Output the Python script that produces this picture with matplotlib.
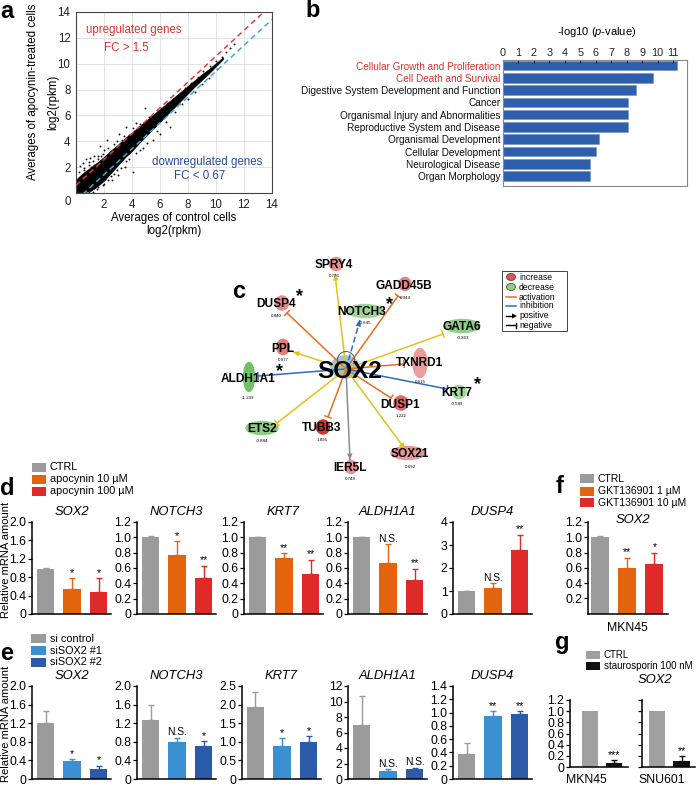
import numpy as np
import matplotlib
matplotlib.use('Agg')
import matplotlib.pyplot as plt
from matplotlib.patches import Ellipse, Rectangle, Arc, Polygon

plt.rcParams['font.family'] = ['Liberation Sans', 'DejaVu Sans']
plt.rcParams['mathtext.fontset'] = 'custom'
plt.rcParams['mathtext.rm'] = 'Liberation Sans'
plt.rcParams['mathtext.it'] = 'Liberation Sans:italic'

# ======================= DATA =======================
# --- a: scatter of log2(rpkm), dense core as band + individual points
band_x  = [0.0, 0.5, 1.0, 1.5, 2.0, 2.5, 3.0, 3.5, 4.0, 4.5, 5.0, 5.5, 6.0, 6.5, 7.0, 7.5, 8.0, 8.5, 9.0, 9.5, 10.0, 10.5]
band_lo = [0.05, 0.05, 0.15, 0.5, 0.95, 1.55, 2.15, 2.75, 3.25, 3.85, 4.4, 4.95, 5.5, 6.05, 6.6, 7.15, 7.7, 8.25, 8.75, 9.25, 9.8, 10.35]
band_hi = [1.05, 1.55, 1.95, 2.35, 2.8, 3.3, 3.75, 4.25, 4.7, 5.15, 5.6, 6.05, 6.5, 6.95, 7.4, 7.85, 8.3, 8.75, 9.2, 9.6, 10.05, 10.5]
up_x = [0.2, 0.3, 0.4, 0.5, 0.6, 0.7, 0.8, 0.9, 1.0, 1.1, 1.2, 1.3, 1.4, 1.6, 1.7, 1.8, 2.0, 2.1, 2.2, 2.4,
        2.6, 2.7, 2.9, 3.1, 3.3, 3.6, 3.8, 4.1, 4.3, 4.6, 4.9, 5.2, 5.5, 5.8, 6.1, 6.5, 6.9, 7.3, 7.8, 8.2,
        8.7, 9.1, 9.6, 10.0, 10.4, 10.7, 11.0, 11.3, 0.35, 0.55, 0.95, 1.25, 1.55, 1.9, 2.3, 2.8, 3.4]
up_y = [1.6, 2.1, 1.4, 2.3, 1.9, 2.6, 1.7, 2.2, 2.7, 2.0, 2.5, 2.9, 2.2, 2.6, 3.6, 2.9, 3.3, 2.7, 4.1, 3.2,
        3.1, 3.8, 4.0, 4.6, 4.1, 5.1, 4.5, 5.0, 5.4, 5.3, 6.6, 5.9, 5.9, 6.4, 6.6, 7.0, 7.3, 7.6, 8.1, 8.5,
        9.0, 9.4, 9.8, 10.2, 10.5, 10.9, 11.2, 11.5, 1.3, 1.8, 2.4, 2.2, 2.9, 3.0, 3.5, 3.4, 4.4]
dn_x = [0.9, 1.1, 1.3, 1.5, 1.7, 1.9, 2.1, 2.3, 2.5, 2.7, 2.9, 3.2, 3.5, 3.8, 4.1, 4.3, 4.6, 4.8, 5.1, 5.5,
        5.8, 6.0, 6.4, 6.7, 7.1, 7.6, 8.0, 8.5, 9.0, 9.5, 10.1, 1.2, 1.6, 2.0, 2.6, 3.0, 3.6]
dn_y = [0.1, 0.2, 0.4, 0.3, 0.85, 0.6, 1.1, 1.0, 1.3, 1.5, 1.8, 1.9, 2.0, 2.6, 1.6, 3.1, 3.3, 3.5, 3.9, 4.1,
        4.8, 4.6, 5.5, 5.1, 6.3, 6.9, 7.3, 7.8, 8.4, 8.9, 9.6, 0.05, 0.5, 0.7, 1.0, 1.4, 2.5]
fc_up, fc_down = 1.5, 0.67

# --- b: IPA functions
b_labels = ['Cellular Growth and Proliferation', 'Cell Death and Survival',
            'Digestive System Development and Function', 'Cancer',
            'Organismal Injury and Abnormalities', 'Reproductive System and Disease',
            'Organismal Development', 'Cellular Development', 'Neurological Disease',
            'Organ Morphology']
b_values = [11.25, 9.7, 8.6, 8.1, 8.1, 8.1, 6.2, 6.0, 5.65, 5.65]
b_highlight = [True, True, False, False, False, False, False, False, False, False]

# --- c: SOX2 network
net_hub = 'SOX2'
net_genes = ['SPRY4', 'GADD45B', 'NOTCH3', 'DUSP4', 'GATA6', 'PPL', 'TXNRD1',
             'ALDH1A1', 'KRT7', 'DUSP1', 'ETS2', 'TUBB3', 'SOX21', 'IER5L']
net_fc = [0.776, 0.944, -0.645, 0.840, -0.863, 0.977, 0.615,
          -1.239, -0.589, 1.222, -0.884, 1.895, 0.692, 0.748]
net_rel = ['inconsistent', 'activation', 'inhibition', 'activation', 'inconsistent', 'inconsistent', 'activation',
           'inhibition', 'inhibition', 'activation', 'inconsistent', 'activation', 'inconsistent', 'unknown']
net_head = ['arrow', 'bar', 'arrow', 'bar', 'bar', 'arrow', 'bar',
            'bar', 'bar', 'bar', 'bar', 'bar', 'arrow', 'arrow']
net_dashed = ['NOTCH3']
net_starred = ['DUSP4', 'NOTCH3', 'ALDH1A1', 'KRT7']

# --- d: apocynin qPCR
d_genes = ['SOX2', 'NOTCH3', 'KRT7', 'ALDH1A1', 'DUSP4']
d_groups = ['CTRL', 'apocynin 10 \u00b5M', 'apocynin 100 \u00b5M']
d_means = [[0.97, 0.55, 0.48], [1.0, 0.77, 0.47], [1.0, 0.73, 0.52], [1.0, 0.67, 0.44], [1.0, 1.13, 2.77]]
d_errs = [[0.04, 0.23, 0.30], [0.02, 0.18, 0.16], [0.01, 0.06, 0.19], [0.01, 0.24, 0.15], [0.02, 0.22, 0.68]]
d_sig = [['', '*', '*'], ['', '*', '**'], ['', '**', '**'], ['', 'N.S.', '**'], ['', 'N.S.', '**']]
d_yticks = [[0, 0.4, 0.8, 1.2, 1.6, 2.0], [0, 0.2, 0.4, 0.6, 0.8, 1.0, 1.2], [0, 0.2, 0.4, 0.6, 0.8, 1.0, 1.2],
            [0, 0.2, 0.4, 0.6, 0.8, 1.0, 1.2], [0, 1, 2, 3, 4]]
d_yticklabels = [['0', '0.4', '0.8', '1.2', '1.6', '2.0'], ['0', '0.2', '0.4', '0.6', '0.8', '1.0', '1.2'],
                 ['0', '0.2', '0.4', '0.6', '0.8', '1.0', '1.2'], ['0', '0.2', '0.4', '0.6', '0.8', '1.0', '1.2'],
                 ['0', '1', '2', '3', '4']]

# --- e: siSOX2 qPCR
e_genes = ['SOX2', 'NOTCH3', 'KRT7', 'ALDH1A1', 'DUSP4']
e_groups = ['si control', 'siSOX2 #1', 'siSOX2 #2']
e_means = [[1.2, 0.39, 0.21], [1.27, 0.79, 0.71], [1.94, 0.89, 0.99], [7.0, 1.0, 1.3], [0.38, 0.95, 0.98]]
e_errs = [[0.26, 0.04, 0.07], [0.32, 0.10, 0.10], [0.40, 0.21, 0.16], [3.7, 0.30, 0.15], [0.16, 0.07, 0.04]]
e_sig = [['', '*', '*'], ['', 'N.S.', '*'], ['', '*', '*'], ['', 'N.S.', 'N.S.'], ['', '**', '**']]
e_yticks = [[0, 0.4, 0.8, 1.2, 1.6, 2.0], [0, 0.4, 0.8, 1.2, 1.6, 2.0], [0, 0.5, 1.0, 1.5, 2.0, 2.5],
            [0, 2, 4, 6, 8, 10, 12], [0, 0.2, 0.4, 0.6, 0.8, 1.0, 1.2, 1.4]]
e_yticklabels = [['0', '0.4', '0.8', '1.2', '1.6', '2.0'], ['0', '0.4', '0.8', '1.2', '1.6', '2.0'],
                 ['0', '0.5', '1.0', '1.5', '2.0', '2.5'], ['0', '2', '4', '6', '8', '10', '12'],
                 ['0', '0.2', '0.4', '0.6', '0.8', '1.0', '1.2', '1.4']]

# --- f: GKT136901
f_groups = ['CTRL', 'GKT136901 1 \u00b5M', 'GKT136901 10 \u00b5M']
f_means = [1.0, 0.60, 0.65]
f_errs = [0.01, 0.13, 0.15]
f_sig = ['', '**', '*']
f_cell = 'MKN45'
f_yticks = [0.2, 0.4, 0.6, 0.8, 1.0, 1.2]
f_yticklabels = ['0.2', '0.4', '0.6', '0.8', '1.0', '1.2']

# --- g: staurosporin
g_groups = ['CTRL', 'staurosporin 100 nM']
g_cells = ['MKN45', 'SNU601']
g_means = [[1.0, 0.07], [1.0, 0.10]]
g_errs = [[0.0, 0.05], [0.0, 0.09]]
g_sig = [['', '***'], ['', '**']]
g_yticks = [0, 0.2, 0.4, 0.6, 0.8, 1.0, 1.2]
g_yticklabels = ['0', '0.2', '0.4', '0.6', '0.8', '1.0', '1.2']

# ======================= STYLE / LAYOUT =======================
W, H = 698, 792
fig = plt.figure(figsize=(W / 100, H / 100), dpi=100)


def px_axes(x0, y0, x1, y1):
    return fig.add_axes([x0 / W, 1 - y1 / H, (x1 - x0) / W, (y1 - y0) / H])


GRAY = '#9b9b9b'
ORANGE = '#e2640f'
RED = '#e02a2a'
LBLUE = '#3a90d0'
DBLUE = '#2a5aa8'
d_colors = [GRAY, ORANGE, RED]
e_colors = [GRAY, LBLUE, DBLUE]
f_colors = [GRAY, ORANGE, RED]
g_colors = ['#a0a0a0', '#111111']
TICK_FS = 8.8

# ---------------- panel a ----------------
axa = px_axes(76, 12, 272, 193)
axa.set_xlim(0, 14)
axa.set_ylim(0, 14)
axa.set_xticks(range(0, 15, 2))
axa.set_yticks(range(0, 15, 2))
axa.set_xticklabels([''] + [str(v) for v in range(2, 15, 2)])
axa.set_yticklabels([''] + [str(v) for v in range(2, 15, 2)])
axa.tick_params(length=0, labelsize=8.3, colors='#222', pad=4)
axa.grid(True, color='#dedede', lw=0.6)
axa.set_axisbelow(True)
for s in axa.spines.values():
    s.set_color('#444')
    s.set_linewidth(0.8)
axa.fill_between(band_x, band_lo, band_hi, color='black', lw=0.4, zorder=2)
axa.scatter(up_x + dn_x, up_y + dn_y, s=1.8, c='black', lw=0, zorder=2)
xs = np.array([0.0, 14.0])
axa.plot(xs, xs + np.log2(fc_up), ls=(0, (3.5, 2.5)), color='#e63b3b', lw=1.1, zorder=3)
axa.plot(xs, xs + np.log2(fc_down), ls=(0, (3.5, 2.5)), color='#41a5dd', lw=1.1, zorder=3)
axa.text(0.7, 12.6, 'upregulated genes', color='#e0302a', fontsize=8.3, va='center', zorder=5)
axa.text(3.6, 11.2, 'FC > 1.5', color='#e0302a', fontsize=8.3, ha='center', va='center', zorder=5)
axa.text(5.4, 2.4, 'downregulated genes', color='#2a4aa0', fontsize=8.3, va='center', zorder=5)
axa.text(8.85, 1.3, 'FC < 0.67', color='#2a4aa0', fontsize=8.3, ha='center', va='center', zorder=5)

# ---------------- panel b ----------------
axb = px_axes(503, 60, 687, 186)
ypos = np.arange(len(b_values))
axb.barh(ypos, b_values, height=0.78, color='#2e5fac', edgecolor='#6d8fc8', lw=0.4)
axb.set_ylim(9.8, -0.45)
axb.set_xlim(0, 11.9)
axb.xaxis.tick_top()
axb.set_xticks(range(12))
axb.set_yticks(ypos)
axb.set_yticklabels(b_labels, fontsize=7.2)
for lbl, hl in zip(axb.get_yticklabels(), b_highlight):
    lbl.set_color('#d9342b' if hl else '#111')
axb.tick_params(axis='y', length=0, pad=2)
axb.tick_params(axis='x', direction='in', length=2, pad=1.5, labelsize=7.8, colors='#222')
for s in axb.spines.values():
    s.set_color('#888')
    s.set_linewidth(0.8)

# ---------------- bar helpers ----------------
SP = 26.5


def bar_axes(spine_x, top, bottom, width_px=79, first_px=13.5, sp=SP):
    ax = px_axes(spine_x, top, spine_x + width_px, bottom)
    left = -first_px / sp
    ax.set_xlim(left, left + width_px / sp)
    ax.patch.set_alpha(0)
    return ax


def draw_bars(ax, means, errs, colors, sigs, ylim, yticks, yticklabels, labels=True):
    pos = np.arange(len(means))
    ax.bar(pos, means, width=0.66, color=colors, zorder=2)
    for p, m, e, c, s in zip(pos, means, errs, colors, sigs):
        if e > 0:
            ax.errorbar(p, m, yerr=[[0], [e]], fmt='none', ecolor=c, elinewidth=1.0,
                        capsize=2.5, capthick=1.0, zorder=1)
        if s:
            ax.annotate(s, (p, m + e), xytext=(0, 0.3), textcoords='offset points',
                        ha='center', va='bottom', fontsize=7.4 if s.startswith('N') else 7.5,
                        annotation_clip=False)
    ax.set_ylim(*ylim)
    ax.set_yticks(yticks)
    ax.set_yticklabels(yticklabels if labels else [])
    for s in ['top', 'right']:
        ax.spines[s].set_visible(False)
    ax.spines['left'].set_linewidth(1.1)
    ax.spines['bottom'].set_linewidth(1.1)
    ax.set_xticks([])
    ax.tick_params(axis='y', length=3, width=0.9, pad=1, labelsize=TICK_FS)


# ---------------- panel d ----------------
d_spines = [32, 137, 244, 348, 453]
for i, g in enumerate(d_genes):
    ax = bar_axes(d_spines[i], 522, 614)
    yt = d_yticks[i]
    draw_bars(ax, d_means[i], d_errs[i], d_colors, d_sig[i], (0, yt[-1]), yt, d_yticklabels[i])
    fig.text((d_spines[i] + 39.5) / W, 1 - 512 / H, g, style='italic', fontsize=9.4, ha='center', va='center')

# ---------------- panel e ----------------
e_spines = [32, 137, 242, 348, 453]
for i, g in enumerate(e_genes):
    ax = bar_axes(e_spines[i], 686, 779)
    yt = e_yticks[i]
    draw_bars(ax, e_means[i], e_errs[i], e_colors, e_sig[i], (0, yt[-1]), yt, e_yticklabels[i])
    fig.text((e_spines[i] + 39.5) / W, 1 - 676 / H, g, style='italic', fontsize=9.4, ha='center', va='center')

# ---------------- panel f ----------------
axf = bar_axes(588, 522, 613.5, width_px=80, first_px=12, sp=27.2)
draw_bars(axf, f_means, f_errs, f_colors, f_sig, (0, 1.2), f_yticks, f_yticklabels)

# ---------------- panel g ----------------
axg1 = bar_axes(570, 700, 767, width_px=58, first_px=20, sp=24)
draw_bars(axg1, g_means[0], g_errs[0], g_colors, g_sig[0], (0, 1.2), g_yticks, g_yticklabels)
axg2 = bar_axes(642, 700, 767, width_px=53, first_px=15, sp=24.5)
draw_bars(axg2, g_means[1], g_errs[1], g_colors, g_sig[1], (0, 1.2), g_yticks, g_yticklabels, labels=False)

# ======================= OVERLAY (pixel coordinates) =======================
ov = fig.add_axes([0, 0, 1, 1])
ov.set_xlim(0, W)
ov.set_ylim(H, 0)
ov.axis('off')

# panel letters
for letter, (x, y) in zip('abcdefg', [(0, 18), (305, 17), (232, 298), (0, 495), (0, 660), (556, 493), (555, 649)]):
    ov.text(x, y, letter, fontsize=17, fontweight='bold', ha='left', va='baseline')

# panel a axis labels
ov.text(68, 202, '0', fontsize=8.3, ha='center', va='center', color='#222')
ov.text(33, 92, 'Averages of apocynin-treated cells', fontsize=8.3, rotation=90, ha='center', va='center')
ov.text(53, 102, 'log2(rpkm)', fontsize=8.3, rotation=90, ha='center', va='center')
ov.text(174, 218, 'Averages of control cells', fontsize=8.3, ha='center', va='center')
ov.text(174, 231, 'log2(rpkm)', fontsize=8.3, ha='center', va='center')

# panel b title
ov.text(597, 32, '-log10 ($\\mathit{p}$-value)', fontsize=8, ha='center', va='center')

# y labels d/e
ov.text(6, 560, 'Relative mRNA amount', fontsize=8, rotation=90, ha='center', va='center')
ov.text(6, 724, 'Relative mRNA amount', fontsize=8, rotation=90, ha='center', va='center')


def square_legend(x0, x1, ys, labels, colors, h=9, fs=7.8):
    for y, lab, c in zip(ys, labels, colors):
        ov.add_patch(Rectangle((x0, y - h / 2), x1 - x0, h, color=c, lw=0))
        ov.text(x1 + 4, y, lab, fontsize=fs, ha='left', va='center')


square_legend(32, 46, [467.5, 479.5, 491], d_groups, d_colors)
square_legend(31, 46, [638.5, 650.5, 662], e_groups, e_colors)
square_legend(580, 594, [478.5, 491, 502.5], f_groups, f_colors, fs=7.5)
square_legend(586, 600, [654.5, 666], g_groups, g_colors, h=8, fs=7.0)

# f / g titles and cell-line labels
ov.text(633, 520, 'SOX2', style='italic', fontsize=9.4, ha='center', va='center')
ov.text(627, 628, f_cell, fontsize=8.8, ha='center', va='center')
ov.text(655, 680, 'SOX2', style='italic', fontsize=9.4, ha='center', va='center')
ov.text(586, 780, g_cells[0], fontsize=8.8, ha='center', va='center')
ov.text(662, 780, g_cells[1], fontsize=8.8, ha='center', va='center')

# ---------------- panel c network ----------------
# layout: label xy, value xy, blob (cx, cy, w, h), edge end xy
node_layout = {
    'SPRY4':   ((334, 265), (334, 276), (336, 264, 13, 13), (335, 274)),
    'GADD45B': ((404, 286), (405, 298), (405, 284, 12, 13), (398, 296)),
    'NOTCH3':  ((362, 312), (365, 323), (365, 311, 36, 13), (360, 320)),
    'DUSP4':   ((276, 304), (276, 316), (282, 303, 13, 14), (287, 313)),
    'GATA6':   ((462, 327), (463, 338), (462, 326, 36, 13), (443, 334)),
    'PPL':     ((283, 349), (283, 360), (283, 347, 13, 15), (293, 352)),
    'TXNRD1':  ((419, 363), (420, 382), (420, 363, 14, 29), (404, 364)),
    'ALDH1A1': ((248, 379), (248, 398), (249, 377, 11, 29), (258, 376)),
    'KRT7':    ((457, 393), (457, 404), (459, 392, 14, 13), (447, 389)),
    'DUSP1':   ((400, 405), (401, 416), (401, 403, 14, 14), (391, 398)),
    'ETS2':    ((262, 429), (262, 441), (262, 428, 32, 13), (277, 423)),
    'TUBB3':   ((322, 428), (322, 440), (323, 427, 13, 14), (328, 417)),
    'SOX21':   ((410, 454), (410, 467), (408, 453, 34, 13), (405, 449)),
    'IER5L':   ((350, 468), (350, 479), (351, 467, 12, 13), (350, 460)),
}
star_layout = {'DUSP4': (299, 297), 'NOTCH3': (389, 305), 'ALDH1A1': (279, 372), 'KRT7': (477, 385)}
hub_xy = (346, 369)
edge_colors = {'activation': '#e2701f', 'inhibition': '#2f6cc0', 'inconsistent': '#e3c11c', 'unknown': '#8c8c8c'}


def mix(hexc, a):
    c = np.array(matplotlib.colors.to_rgb(hexc))
    return tuple(1 - a * (1 - c))


def draw_head(ex, ey, d, col, head):
    n = np.array([-d[1], d[0]])
    tip = np.array([ex, ey])
    if head == 'arrow':
        base = tip - 6.5 * d
        ov.add_patch(Polygon([tip, base + 2.8 * n, base - 2.8 * n], closed=True, color=col, lw=0, zorder=4))
    else:
        p1, p2 = tip + 3.2 * n, tip - 3.2 * n
        ov.plot([p1[0], p2[0]], [p1[1], p2[1]], color=col, lw=1.1, zorder=4)


sx, sy = hub_xy
for g, rel, head in zip(net_genes, net_rel, net_head):
    ex, ey = node_layout[g][3]
    col = edge_colors[rel]
    d = np.array([ex - sx, ey - sy], dtype=float)
    d /= np.linalg.norm(d)
    ov.plot([sx, ex], [sy, ey], color=col, lw=1.1, ls=(0, (4, 2)) if g in net_dashed else '-',
            zorder=3, solid_capstyle='butt')
    draw_head(ex, ey, d, col, head)

# self loop on hub
ov.add_patch(Arc((hub_xy[0], hub_xy[1] - 9), 17, 17, theta1=150, theta2=390, color='#666', lw=0.8, zorder=3))

# hub blob
ov.add_patch(Ellipse((345, 367), 28, 22, color='#9dc3e6', zorder=2))

for g, fc in zip(net_genes, net_fc):
    (lx, ly), (vx, vy), (bx, by, bw, bh), _ = node_layout[g]
    base = '#d42a2a' if fc > 0 else '#3aa52a'
    a = min(1.0, 0.22 + abs(fc) * 0.4)
    ov.add_patch(Ellipse((bx, by), bw, bh, color=mix(base, a), zorder=2))
    ov.text(lx, ly, g, fontsize=8.6, fontweight='bold', ha='center', va='center', zorder=5)
    ov.text(vx, vy, f'{fc:.3f}', fontsize=3.2, ha='center', va='center', zorder=5)
for g, (x, y) in star_layout.items():
    ov.text(x, y, '*', fontsize=13, fontweight='bold', ha='center', va='center', zorder=5)
ov.text(350, 372, net_hub, fontsize=17.5, fontweight='bold', ha='center', va='center', zorder=5)

# network legend
ov.add_patch(Rectangle((502, 271), 65, 60, fill=False, edgecolor='#444', lw=0.7))
leg_y = [277, 287, 297, 306, 316, 325]
ov.add_patch(Ellipse((511, leg_y[0]), 9, 7, facecolor='#e05555', edgecolor='#333', lw=0.5))
ov.add_patch(Ellipse((511, leg_y[1]), 9, 7, facecolor='#8fd080', edgecolor='#333', lw=0.5))
ov.plot([506, 516], [leg_y[2]] * 2, color=edge_colors['activation'], lw=1.1)
ov.plot([506, 516], [leg_y[3]] * 2, color=edge_colors['inhibition'], lw=1.1)
ov.plot([506, 513], [leg_y[4]] * 2, color='black', lw=1.0)
ov.add_patch(Polygon([(517, leg_y[4]), (512, leg_y[4] - 2.5), (512, leg_y[4] + 2.5)], closed=True, color='black', lw=0))
ov.plot([506, 516], [leg_y[5]] * 2, color='black', lw=1.0)
ov.plot([516, 516], [leg_y[5] - 2.5, leg_y[5] + 2.5], color='black', lw=1.0)
for y, lab in zip(leg_y, ['increase', 'decrease', 'activation', 'inhibition', 'positive', 'negative']):
    ov.text(519, y, lab, fontsize=6.2, ha='left', va='center')

fig.savefig('out.png', dpi=100)
